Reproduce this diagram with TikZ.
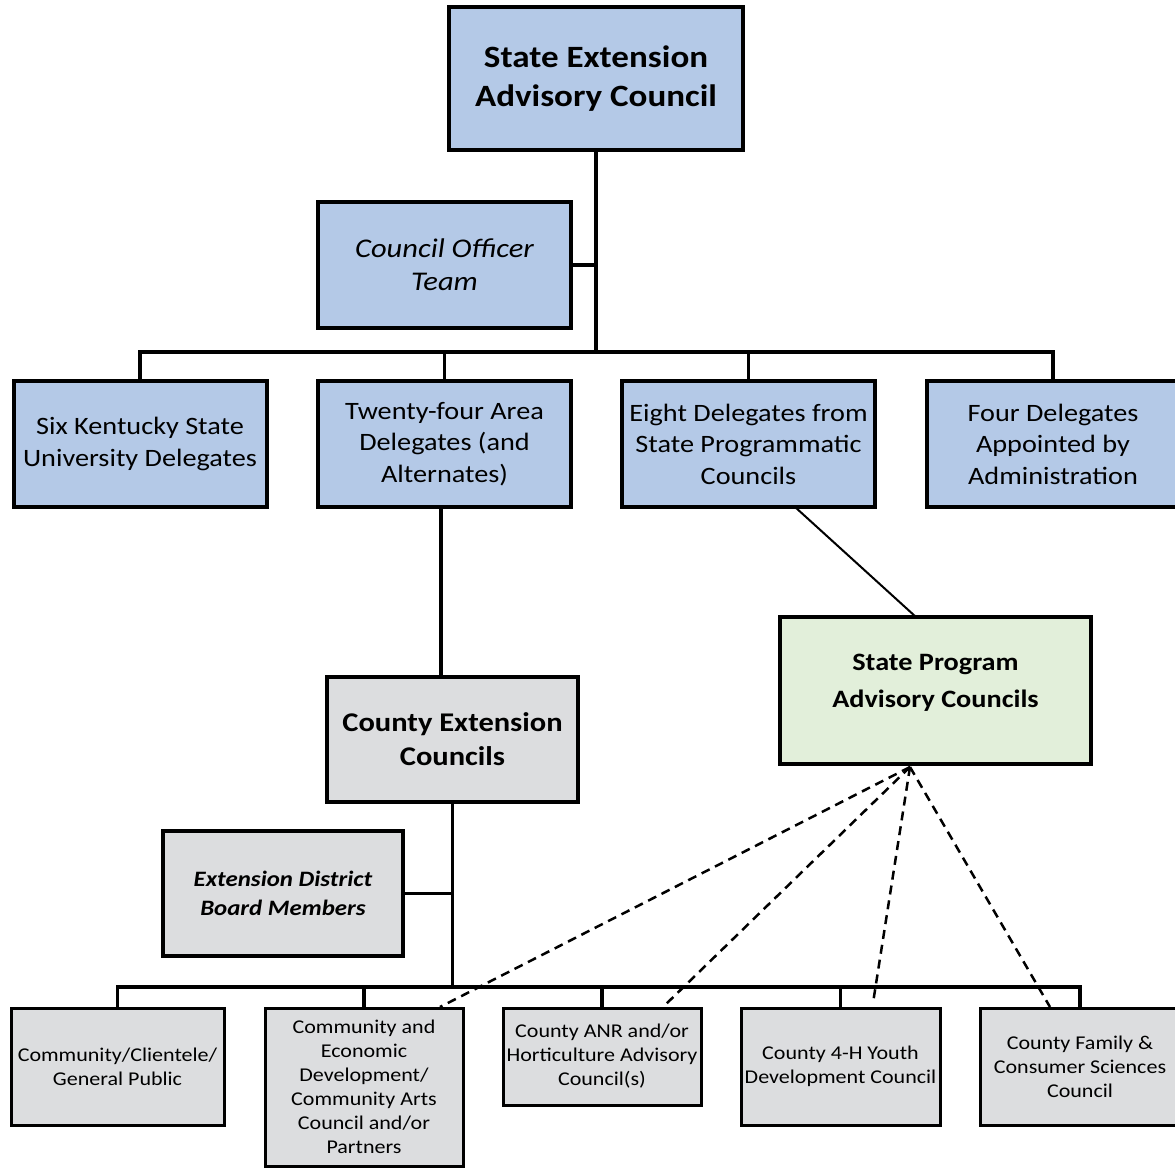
\documentclass[tikz,border=0pt]{standalone}
\usepackage{fontspec}
\setmainfont{Carlito}[FakeStretch=1.13]
\definecolor{boxblue}{RGB}{180,201,231}
\definecolor{boxgray}{RGB}{220,221,223}
\definecolor{boxgreen}{RGB}{226,239,218}
\begin{document}
\begin{tikzpicture}[x=1pt,y=-1pt,
  base/.style={draw=black,align=center,inner sep=0pt,anchor=center},
  bluebox/.style={base,fill=boxblue,line width=4pt},
  graybox/.style={base,fill=boxgray,line width=3.5pt},
  smallbox/.style={base,fill=boxgray,line width=3pt,minimum width=199pt,
     font=\fontsize{19.5}{24}\selectfont},
  conn/.style={line width=3.5pt},
  thinconn/.style={line width=2pt},
  dashconn/.style={line width=2.5pt,dash pattern=on 9pt off 6pt},
  midbox/.style={bluebox,minimum width=253pt,minimum height=126pt,
     font=\fontsize{25}{31.5}\selectfont}]
\useasboundingbox (0,0) rectangle (1175,1167);
\clip (0,0) rectangle (1175,1167);
% top
\node[bluebox,line width=4.5pt,minimum width=294pt,minimum height=143pt,
  font=\bfseries\fontsize{31}{39}\selectfont] (sea) at (596,78.5)
  {State Extension\\Advisory Council};
\node[bluebox,minimum width=253pt,minimum height=126pt,
  font=\itshape\fontsize{27}{33}\selectfont] (cot) at (444.5,265)
  {Council Officer\\Team};
% row 3
\node[midbox] (six) at (140,444) {Six Kentucky State\\University Delegates};
\node[midbox] (tfa) at (444.5,444) {Twenty-four Area\\Delegates (and\\Alternates)};
\node[midbox] (eight) at (748.5,444) {Eight Delegates from\\State Programmatic\\Councils};
\node[midbox] (four) at (1053,444) {Four Delegates\\Appointed by\\Administration};
% middle
\node[base,fill=boxgreen,line width=3.5pt,minimum width=311pt,minimum height=147pt,
  text depth=19pt,
  font=\bfseries\fontsize{25}{37}\selectfont] (spac) at (935.5,690.5)
  {State Program\\Advisory Councils};
\node[graybox,line width=4pt,minimum width=251pt,minimum height=125pt,
  font=\bfseries\fontsize{27}{34}\selectfont] (cec) at (452.5,739.5)
  {County Extension\\Councils};
\node[graybox,minimum width=240pt,minimum height=125pt,
  font=\bfseries\itshape\fontsize{22}{29}\selectfont] (edb) at (283,893.5)
  {Extension District\\Board Members};
% bottom row
\node[smallbox,minimum width=213pt,minimum height=117pt] (ccg) at (117.5,1066.5)
  {Community/Clientele/\\General Public};
\node[smallbox,minimum width=198pt,minimum height=158pt] (ced) at (364,1087)
  {Community and\\Economic\\Development/\\Community Arts\\Council and/or\\Partners};
\node[smallbox,minimum width=198pt,minimum height=97pt] (anr) at (602,1056.5)
  {County ANR and/or\\Horticulture Advisory\\Council(s)};
\node[smallbox,minimum width=199pt,minimum height=117pt] (fourh) at (840.5,1066.5)
  {County 4-H Youth\\Development Council};
\node[smallbox,minimum width=199pt,minimum height=117pt] (fcs) at (1080,1066.5)
  {County Family \&\\Consumer Sciences\\Council};
% connectors top
\coordinate (bus1) at (596,352);
\draw[conn] (sea.south) -- (bus1);
\draw[conn] (cot.east) -- (cot.east -| sea.south);
\draw[conn] (six.north) |- (bus1) -| (four.north);
\draw[conn] (tfa.north) -- (tfa.north |- bus1);
\draw[conn] (eight.north) -- (eight.north |- bus1);
% twenty-four to county
\coordinate (tfab) at (441,507);
\coordinate (cect) at (441,677);
\draw[conn] (tfab) -- (cect);
% eight to state program
\coordinate (eb) at (795,507);
\coordinate (spt) at (916,617);
\draw[thinconn] (eb) -- (spt);
% county to bottom bus
\coordinate (bus2) at (452.5,987);
\draw[conn] (cec.south) -- (bus2);
\draw[conn] (edb.east) -- (edb.east -| cec.south);
\draw[conn] (ccg.north) |- (bus2) -| (fcs.north);
\draw[conn] (ced.north) -- (ced.north |- bus2);
\draw[conn] (anr.north) -- (anr.north |- bus2);
\draw[conn] (fourh.north) -- (fourh.north |- bus2);
% dashed
\coordinate (dsrc) at (910,767);
\coordinate (d1) at (440,1007);
\coordinate (d2) at (663,1007);
\coordinate (d3) at (873,1003);
\coordinate (d4) at (1050,1007);
\draw[dashconn] (dsrc) -- (d1);
\draw[dashconn] (dsrc) -- (d2);
\draw[dashconn] (dsrc) -- (d3);
\draw[dashconn] (dsrc) -- (d4);
\end{tikzpicture}
\end{document}
